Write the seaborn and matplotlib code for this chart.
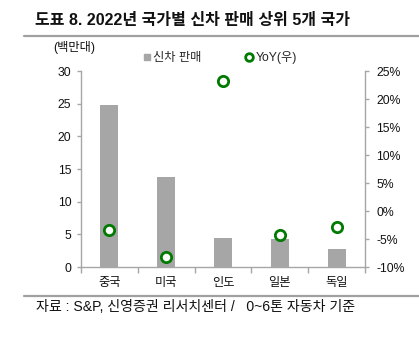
import matplotlib
matplotlib.use("Agg")
import matplotlib.pyplot as plt
from matplotlib.lines import Line2D
import seaborn as sns
import pandas as pd

# 2022 top-5 new car sales markets
countries = ["중국", "미국", "인도", "일본", "독일"]
sales = [24.8, 13.8, 4.4, 4.3, 2.8]          # 백만대
yoy = [-3.4, -8.2, 23.3, -4.3, -2.9]          # %

left_ticks = [0, 5, 10, 15, 20, 25, 30]
right_ticks = [-10, -5, 0, 5, 10, 15, 20, 25]

sns.set_theme(style="white")
plt.rcParams["font.family"] = ["Liberation Sans", "Noto Sans CJK KR"]

BAR = "#A6A6A6"
GREEN = "#007A00"
SPINE = "#A6A6A6"

df = pd.DataFrame({"country": countries, "sales": sales, "yoy": yoy})

fig = plt.figure(figsize=(4.19, 3.42), dpi=100)
ax = fig.add_axes([81 / 419, 1 - 267 / 342, (365 - 81) / 419, (267 - 71) / 342])

sns.barplot(data=df, x="country", y="sales", color=BAR, width=0.32,
            saturation=1, ax=ax, edgecolor="none")
ax.set_xlim(-0.5, 4.5)
ax.set_ylim(0, 30)
ax.set_yticks(left_ticks)
ax.set_yticklabels([str(t) for t in left_ticks], fontsize=8.8)
ax.set_xlabel("")
ax.set_ylabel("")

ax2 = ax.twinx()
sns.scatterplot(data=df, x="country", y="yoy", ax=ax2, s=55, marker="o",
                facecolor="white", edgecolor=GREEN, linewidth=2, zorder=5,
                legend=False)
ax2.set_ylim(-10, 25)
ax2.set_yticks(right_ticks)
ax2.set_yticklabels([f"{t}%" for t in right_ticks], fontsize=8.8)
ax2.set_ylabel("")

for a in (ax, ax2):
    a.spines["top"].set_visible(False)
    for side in ("left", "right", "bottom"):
        a.spines[side].set_color(SPINE)
        a.spines[side].set_linewidth(1.0)
ax.spines["right"].set_visible(False)
ax2.spines["left"].set_visible(False)
ax2.spines["bottom"].set_visible(False)

ax.tick_params(axis="y", left=True, length=3, width=1, color=SPINE, pad=4,
               labelcolor="#111111")
ax2.tick_params(axis="y", right=True, length=3, width=1, color=SPINE, pad=5,
                labelcolor="#111111")

# category labels without ticks; ticks drawn between categories
ax.set_xticks(range(len(countries)))
ax.set_xticklabels(countries, fontsize=8.8, color="#111111")
ax.tick_params(axis="x", which="major", length=0, pad=7)
ax.set_xticks([i + 0.5 for i in range(-1, len(countries))], minor=True)
ax.tick_params(axis="x", which="minor", bottom=True, length=4, width=1,
               color=SPINE)

# legend
handles = [
    Line2D([], [], marker="s", linestyle="none", markersize=5,
           markerfacecolor=BAR, markeredgecolor=BAR),
    Line2D([], [], marker="o", linestyle="none", markersize=5.5,
           markerfacecolor="white", markeredgecolor=GREEN, markeredgewidth=2),
]
fig.legend(handles, ["신차 판매", "YoY(우)"], ncol=2, frameon=False,
           loc="center left", bbox_to_anchor=(143 / 419, 1 - 58 / 342),
           fontsize=8.8, handlelength=0.6, handletextpad=0.25,
           columnspacing=3.6, borderaxespad=0, borderpad=0)

fig.text(53 / 419, 1 - 47 / 342, "(백만대)", fontsize=8.8, va="center",
         ha="left", color="#111111")

# header and footer
fig.text(35 / 419, 1 - 21 / 342, "도표 8. 2022년 국가별 신차 판매 상위 5개 국가",
         fontsize=11.5, fontweight="bold", va="center", ha="left",
         color="#111111")
fig.add_artist(Line2D([24 / 419, 1], [1 - 36 / 342] * 2, color="#A0A0A0",
                      linewidth=1.6))
fig.add_artist(Line2D([24 / 419, 1], [1 - 296 / 342] * 2, color="#A0A0A0",
                      linewidth=1.6))
fig.text(36 / 419, 1 - 307 / 342,
         "자료 : S&P, 신영증권 리서치센터 /   0~6톤 자동차 기준",
         fontsize=10.1, va="center", ha="left", color="#111111")

fig.savefig("out.png", dpi=100)
